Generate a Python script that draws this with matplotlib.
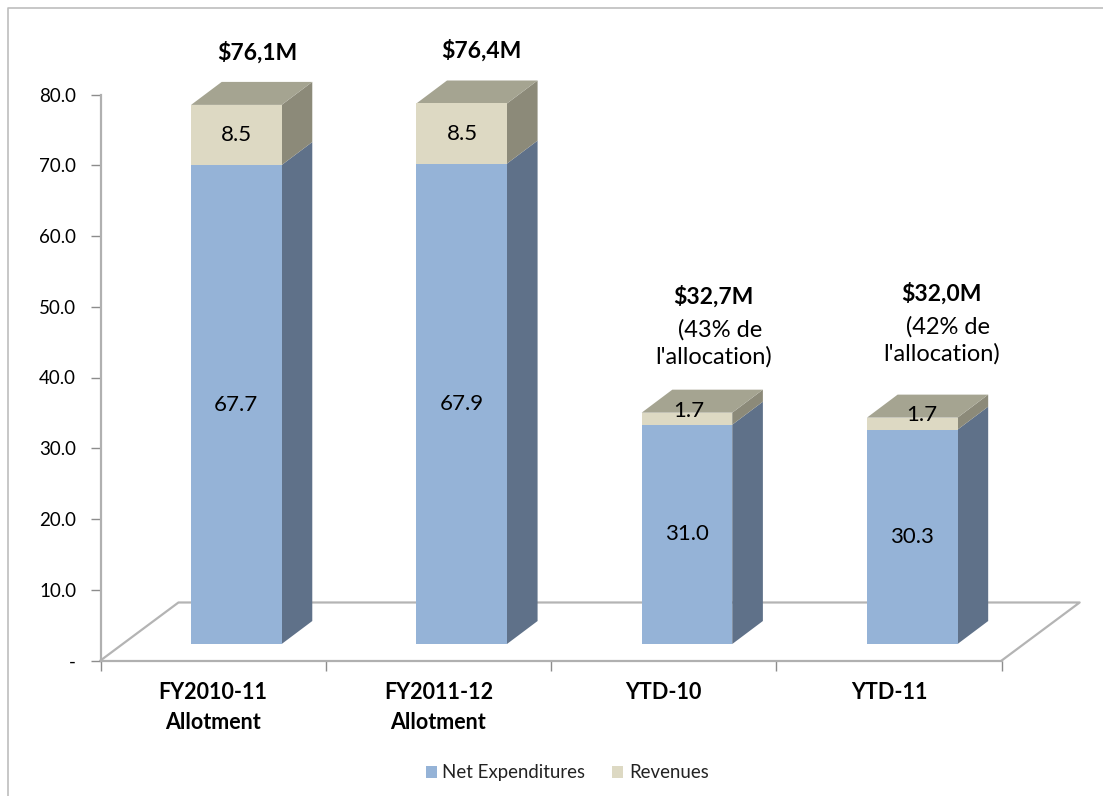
import matplotlib
matplotlib.use('Agg')
import matplotlib.pyplot as plt
from matplotlib.lines import Line2D
from matplotlib.patches import Polygon, Rectangle

plt.rcParams['font.family'] = ['Lato', 'DejaVu Sans']

# data
categories = ['FY2010-11\nAllotment', 'FY2011-12\nAllotment', 'YTD-10', 'YTD-11']
net_expenditures = [67.7, 67.9, 31.0, 30.3]
revenues = [8.5, 8.5, 1.7, 1.7]
totals_text = ['$76,1M', '$76,4M', '$32,7M', '$32,0M']
percent_text = ['', '', "  (43% de\nl'allocation)", "  (42% de\nl'allocation)"]
y_ticks = [0, 10, 20, 30, 40, 50, 60, 70, 80]
y_tick_labels = ['-', '10.0', '20.0', '30.0', '40.0', '50.0', '60.0', '70.0', '80.0']

W, H = 1103, 796
fig = plt.figure(figsize=(W/100, H/100), dpi=100)
ax = fig.add_axes([100.5/W, 1-660.5/H, 901.2/W, 566/H])
ax.set_xlim(0, 4)
ax.set_ylim(0, 80)
for s in ['top', 'right']:
    ax.spines[s].set_visible(False)
for s in ['left', 'bottom']:
    ax.spines[s].set_color('#b0b0b0')
    ax.spines[s].set_linewidth(1.6)

# 3d look, in data units
bar_w = 0.402
bar_dx = 0.136
bar_dy = 3.25
base = 2.33
floor_dx = 0.346
floor_dy = 8.2
rev_label_dx = [0.0, 0.005, 0.008, 0.042] #small labels sit off centre in the original

ax.plot([0, floor_dx, 4+floor_dx, 4], [0, floor_dy, floor_dy, 0], color='#b4b4b4', lw=1.6, clip_on=False, zorder=1)

def side(x, y0, y1, color):
    ax.add_patch(Polygon([(x, y0), (x+bar_dx, y0+bar_dy), (x+bar_dx, y1+bar_dy), (x, y1)],
                         facecolor=color, edgecolor='none', clip_on=False, zorder=2))

for i in range(4):
    left = i + 0.5 + 0.103 - bar_w/2
    right = left + bar_w
    sep = base + net_expenditures[i]
    top = sep + revenues[i]
    ax.bar(left, net_expenditures[i], bar_w, bottom=base, align='edge', color='#95B3D7', zorder=3)
    ax.bar(left, revenues[i], bar_w, bottom=sep, align='edge', color='#DDD9C3', zorder=3)
    side(right, base, sep, '#5F7189')
    side(right, sep, top, '#8C8A79')
    ax.add_patch(Polygon([(left, top), (right, top), (right+bar_dx, top+bar_dy), (left+bar_dx, top+bar_dy)],
                         facecolor='#A5A491', edgecolor='none', clip_on=False, zorder=2))
    xc = (left + right)/2
    ax.text(xc, base + net_expenditures[i]/2, '%.1f' % net_expenditures[i], ha='center', va='center', fontsize=16, color='black', zorder=5)
    ax.text(xc + rev_label_dx[i], sep + max(revenues[i]/2, 2.0), '%.1f' % revenues[i], ha='center', va='center', fontsize=16, color='black', zorder=5)

ax.set_xticks(range(5))
ax.set_xticklabels([])
ax.set_yticks(y_ticks)
ax.set_yticklabels(y_tick_labels, fontsize=13.5)
ax.tick_params(axis='both', color='#8c8c8c', length=7, width=1)
ax.tick_params(axis='y', pad=10.5)

for i, c in enumerate(categories):
    ax.text(i + 0.5, -3.0, c, ha='center', va='top', fontsize=15.5, fontweight='bold', linespacing=1.55)

# annotation text
label_x = [257, 481, 713, 941]
label_y = [53, 51, 297, 294]
for i in range(4):
    fig.text(label_x[i]/W, 1-label_y[i]/H, totals_text[i], ha='center', va='center', fontsize=16.5, fontweight='bold')
fig.text(714/W, 1-343/H, percent_text[2], ha='center', va='center', fontsize=17, linespacing=1.3)
fig.text(942/W, 1-340/H, percent_text[3], ha='center', va='center', fontsize=17, linespacing=1.3)

# legend
fig.patches.append(Rectangle((426/W, 1-778/H), 11/W, 12/H, transform=fig.transFigure, facecolor='#95B3D7', edgecolor='none'))
fig.patches.append(Rectangle((612/W, 1-778/H), 11/W, 12/H, transform=fig.transFigure, facecolor='#DDD9C3', edgecolor='none'))
fig.text(442/W, 1-778/H, 'Net Expenditures', ha='left', va='baseline', fontsize=13.4, color='#222222')
fig.text(629/W, 1-778/H, 'Revenues', ha='left', va='baseline', fontsize=13.4, color='#222222')

# chart frame, only top and left show in the screenshot
fig.add_artist(Line2D([8/W, 8/W, 1], [0, 1-8/H, 1-8/H], color='#bdbdbd', lw=1.2))

plt.savefig('out.png', dpi=100)
plt.close()
